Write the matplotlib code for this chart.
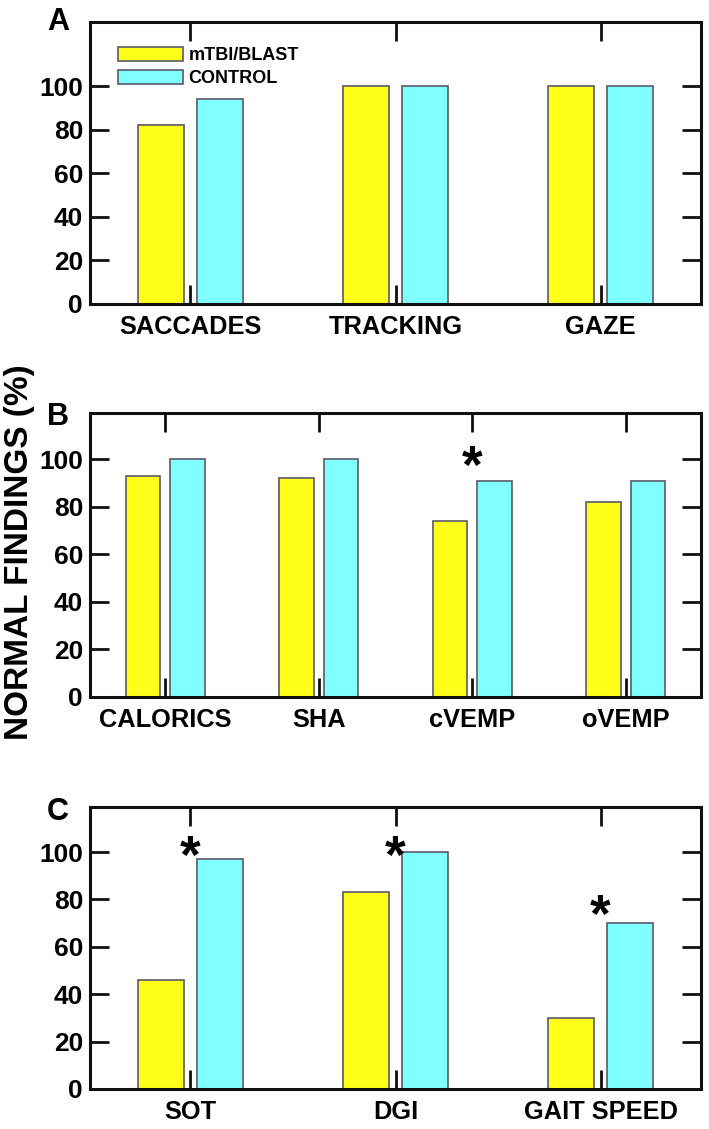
import numpy as np
import matplotlib.pyplot as plt

plt.rcParams['font.family'] = ['Liberation Sans', 'DejaVu Sans']
plt.rcParams['font.weight'] = 'bold'

# panel A - oculomotor
cats_a = ['SACCADES', 'TRACKING', 'GAZE']
blast_a = [82, 100, 100]
ctrl_a = [94, 100, 100]
star_a = []

# panel B - vestibular
cats_b = ['CALORICS', 'SHA', 'cVEMP', 'oVEMP']
blast_b = [93, 92, 74, 82]
ctrl_b = [100, 100, 91, 91]
star_b = [(2, 103)]

# panel C - balance / gait
cats_c = ['SOT', 'DGI', 'GAIT SPEED']
blast_c = [46, 83, 30]
ctrl_c = [97, 100, 70]
star_c = [(0, 104), (1, 104), (2, 79)]

YELLOW = '#ffff1a'
CYAN = '#80ffff'
EDGE = '#5a5a66'

fig = plt.figure(figsize=(7.09, 11.29), dpi=100)
W, H = 709, 1129


def make_ax(top, bottom):
    return fig.add_axes([90 / W, 1 - bottom / H, 611 / W, (bottom - top) / H])


def panel(ax, cats, blast, ctrl, stars, ymax, letter, let_y):
    x = np.arange(len(cats))
    w = 0.226
    off = 0.144
    ax.bar(x - off, blast, w, color=YELLOW, edgecolor=EDGE, linewidth=1.2,
           label='mTBI/BLAST', zorder=1)
    ax.bar(x + off, ctrl, w, color=CYAN, edgecolor=EDGE, linewidth=1.2,
           label='CONTROL', zorder=1)
    fs = 38
    for i, y in stars:
        # put the middle of the asterisk glyph at y
        ax.annotate('*', (i, y), xytext=(0, -0.58 * fs),
                    textcoords='offset points', ha='center', va='baseline',
                    fontsize=fs, fontweight='bold')
    ax.set_xlim(-0.49, len(cats) - 0.51)
    ax.set_ylim(0, ymax)
    ax.set_xticks(x)
    ax.set_xticklabels(cats, fontsize=18.3, fontweight='bold')
    ax.set_yticks(np.arange(0, 101, 20))
    ax.set_yticklabels([str(v) for v in range(0, 101, 20)], fontsize=19,
                       fontweight='bold')
    ax.tick_params(axis='both', direction='in', length=14, width=2,
                   top=True, right=True, color='#111111')
    ax.tick_params(axis='x', pad=8)
    ax.tick_params(axis='y', pad=5)
    for s in ax.spines.values():
        s.set_linewidth(2.2)
        s.set_color('#111111')
    ax.text(-43 / 611, let_y, letter, transform=ax.transAxes, fontsize=22,
            fontweight='bold', ha='left', va='baseline')


ax_a = make_ax(22, 304)
panel(ax_a, cats_a, blast_a, ctrl_a, star_a, 129.5, 'A', 1 - 8 / 282)
ax_a.legend(loc='upper left', bbox_to_anchor=(28 / 611, 1 - 25 / 282),
            frameon=False, handlelength=3.6, handleheight=0.85,
            handletextpad=0.3, labelspacing=0.3, borderpad=0, borderaxespad=0,
            prop={'weight': 'bold', 'size': 13})

ax_b = make_ax(413, 697)
panel(ax_b, cats_b, blast_b, ctrl_b, star_b, 119.5, 'B', 1 - 12 / 284)

ax_c = make_ax(807, 1089)
panel(ax_c, cats_c, blast_c, ctrl_c, star_c, 119, 'C', 1 - 13 / 282)

fig.text(20 / W, 1 - 552 / H, 'NORMAL FINDINGS (%)', rotation=90,
         ha='center', va='center', fontsize=24, fontweight='bold')

fig.savefig('out.png', dpi=100)
